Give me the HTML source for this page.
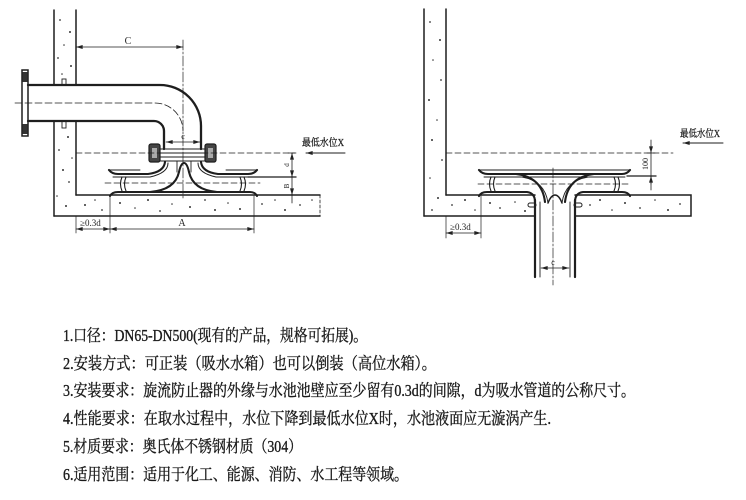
<!DOCTYPE html>
<html><head><meta charset="utf-8"><style>
html,body{margin:0;padding:0;background:#fff;}
svg{display:block;}
</style></head><body>
<svg width="746" height="500" viewBox="0 0 746 500" xmlns="http://www.w3.org/2000/svg">
<defs>
<marker id="ar" viewBox="0 0 10 6" refX="10" refY="3" markerWidth="7" markerHeight="4" orient="auto-start-reverse" markerUnits="userSpaceOnUse"><path d="M0,0 L10,3 L0,6 z" fill="#222"/></marker>
</defs>
<rect width="746" height="500" fill="#fff"/>
<g fill="none" stroke="#1e1e1e" stroke-linecap="round">
<!-- ============ LEFT DIAGRAM ============ -->
<path d="M54,10 V85 M54,121 V216 M76,10 V85 M76,121 V195" stroke-width="1.5"/>
<path d="M76,195 H320 M54,216 H320" stroke-width="1.5"/>
<path d="M320,195 V216" stroke-width="0.8" stroke-dasharray="3,2"/>
<path d="M28,85 H160 A41,41 0 0 1 201,126 V149" stroke-width="2.3"/>
<path d="M28,121 H154 A10,10 0 0 1 164,131 V149" stroke-width="2.3"/>
<rect x="22" y="70" width="6" height="66" stroke-width="1.5"/>
<rect x="22.5" y="72" width="5" height="10" fill="#333" stroke="none"/>
<rect x="22.5" y="124" width="5" height="10" fill="#333" stroke="none"/>
<rect x="62" y="79" width="4" height="6" stroke-width="0.9"/>
<rect x="62" y="121" width="4" height="7" stroke-width="0.9"/>
<path d="M15,103 H155 A28,28 0 0 1 183,131" stroke-width="0.8" stroke-dasharray="7,3"/>
<path d="M183,40 V200" stroke-width="0.7" stroke-dasharray="10,2,2,2"/>
<path d="M76,47 H183" stroke-width="0.8" marker-start="url(#ar)" marker-end="url(#ar)"/>
<path d="M76,40 V50" stroke-width="0.7"/>
<path d="M166,142 H200" stroke-width="0.7" marker-start="url(#ar)" marker-end="url(#ar)"/>
<path d="M160,149 H205 M160,153 H205 M160,157 H205 M160,161 H205" stroke-width="1"/>
<rect x="149" y="144" width="11" height="18" rx="2" fill="#444" stroke-width="1.2"/>
<rect x="152" y="148" width="5" height="10" fill="#aaa" stroke="none"/>
<rect x="205" y="144" width="11" height="18" rx="2" fill="#444" stroke-width="1.2"/>
<rect x="208" y="148" width="5" height="10" fill="#aaa" stroke="none"/>
<path d="M76,153 H295" stroke-width="0.8" stroke-dasharray="6,3"/>
<path d="M109,170 Q112,174 118,174 H148 Q164,172 165,162" stroke-width="2.1"/>
<path d="M113,177 H150 Q168,173 168,163" stroke-width="1"/>
<path d="M257,170 Q254,174 248,174 H218 Q202,172 201,162" stroke-width="2.1"/>
<path d="M253,177 H216 Q198,173 198,163" stroke-width="1"/>
<path d="M109,170 H140 M226,170 H257" stroke-width="0.9"/>
<path d="M122,177 Q119,184 122,191 M126,177 Q123,184 126,191" stroke-width="1.1"/>
<path d="M244,177 Q247,184 244,191 M240,177 Q243,184 240,191" stroke-width="1.1"/>
<path d="M110,196 Q112,192 118,192 H250 Q255,192 257,196" stroke-width="2"/>
<path d="M150,192 Q175,190 179,172 Q181,163 184,163 Q187,163 189,172 Q193,190 217,192" stroke-width="2.1"/>
<path d="M177,161 V172 M191,161 V172" stroke-width="0.9"/>
<path d="M105,183 H260" stroke-width="0.8" stroke-dasharray="6,3"/>
<path d="M248,177 H296" stroke-width="1.3"/>
<path d="M292,153 V203" stroke-width="0.8"/>
<path d="M288,153 H296 M288,195 H296" stroke-width="0.8"/>
<path d="M292,158 V153" stroke-width="0.8" marker-end="url(#ar)"/>
<path d="M292,171 V177" stroke-width="0.8" marker-end="url(#ar)"/>
<path d="M292,190 V195" stroke-width="0.8" marker-end="url(#ar)"/>
<path d="M76,216 V233 M110,196 V233 M254,196 V233" stroke-width="0.7"/>
<path d="M76,229 H110" stroke-width="0.8" marker-start="url(#ar)" marker-end="url(#ar)"/>
<path d="M110,229 H254" stroke-width="0.8" marker-start="url(#ar)" marker-end="url(#ar)"/>
<path d="M345,153 H306" stroke-width="1" marker-end="url(#ar)"/>

<!-- ============ RIGHT DIAGRAM ============ -->
<path d="M424,9 V216 M446,9 V195" stroke-width="1.5"/>
<path d="M446,195 H535 M575,195 H691 V216 H575 M535,216 H424" stroke-width="1.5"/>
<path d="M535,200 V277 M575,200 V277" stroke-width="2.2"/>
<path d="M540,202 V277 M570,202 V277" stroke-width="0.9"/>
<rect x="528" y="203" width="8" height="4" rx="2" stroke-width="1"/>
<rect x="574" y="203" width="8" height="4" rx="2" stroke-width="1"/>
<path d="M553,168 V285" stroke-width="0.7" stroke-dasharray="10,2,2,2"/>
<path d="M541,268 H569" stroke-width="0.7" marker-start="url(#ar)" marker-end="url(#ar)"/>
<path d="M479,170 Q482,174 488,174 H622 Q627,174 630,170" stroke-width="2.1"/>
<path d="M479,170 H630" stroke-width="0.9"/>
<path d="M484,177 H625" stroke-width="0.9"/>
<path d="M491,177 Q488,184 491,191 M495,177 Q492,184 495,191" stroke-width="1.1"/>
<path d="M618,177 Q621,184 618,191 M614,177 Q617,184 614,191" stroke-width="1.1"/>
<path d="M479,196 Q481,192 487,192 H527 Q535,193 535,202" stroke-width="2.1"/>
<path d="M630,196 Q628,192 622,192 H583 Q575,193 575,202" stroke-width="2.1"/>
<path d="M516,174 Q542,177 545,202" stroke-width="2.1"/>
<path d="M594,174 Q568,177 565,202" stroke-width="2.1"/>
<path d="M522,177 Q545,181 548,203" stroke-width="0.9"/>
<path d="M588,177 Q565,181 562,203" stroke-width="0.9"/>
<path d="M548,203 Q551,195 555,195 Q559,195 562,203" stroke-width="1.5"/>
<path d="M478,184 H630" stroke-width="0.8" stroke-dasharray="6,3"/>
<path d="M446,153 H673" stroke-width="0.8" stroke-dasharray="6,3"/>
<path d="M627,176 H656" stroke-width="1.3"/>
<path d="M651,140 V190" stroke-width="0.8"/>
<path d="M647,153 H655" stroke-width="0.8"/>
<path d="M651,146 V153" stroke-width="0.8" marker-end="url(#ar)"/>
<path d="M651,184 V176" stroke-width="0.8" marker-end="url(#ar)"/>
<path d="M723,143 H683" stroke-width="1" marker-end="url(#ar)"/>
<path d="M446,216 V238 M481,196 V238" stroke-width="0.7"/>
<path d="M446,233 H481" stroke-width="0.8" marker-start="url(#ar)" marker-end="url(#ar)"/>
</g>

<g fill="#333">
<circle cx="60" cy="20" r="0.9"/><circle cx="70" cy="32" r="1"/><circle cx="64" cy="45" r="0.8"/><circle cx="58" cy="58" r="0.9"/><circle cx="71" cy="66" r="1"/><circle cx="62" cy="74" r="0.8"/><circle cx="68" cy="137" r="1"/><circle cx="59" cy="150" r="0.9"/><circle cx="72" cy="158" r="0.8"/><circle cx="63" cy="170" r="1"/><circle cx="69" cy="182" r="0.9"/><circle cx="57" cy="196" r="0.8"/><circle cx="66" cy="206" r="1"/>
<circle cx="85" cy="205" r="1"/><circle cx="95" cy="200" r="0.8"/><circle cx="102" cy="210" r="0.9"/><circle cx="120" cy="203" r="1"/><circle cx="135" cy="208" r="0.8"/><circle cx="148" cy="200" r="1"/><circle cx="160" cy="211" r="0.9"/><circle cx="172" cy="204" r="0.8"/><circle cx="190" cy="207" r="1"/><circle cx="205" cy="200" r="0.9"/><circle cx="215" cy="210" r="1"/><circle cx="228" cy="203" r="0.8"/><circle cx="240" cy="209" r="1"/><circle cx="262" cy="204" r="0.9"/><circle cx="275" cy="200" r="0.8"/><circle cx="285" cy="210" r="1"/><circle cx="300" cy="205" r="0.9"/><circle cx="312" cy="200" r="0.8"/>
<circle cx="430" cy="22" r="0.9"/><circle cx="440" cy="40" r="1"/><circle cx="433" cy="60" r="0.8"/><circle cx="441" cy="80" r="0.9"/><circle cx="429" cy="100" r="1"/><circle cx="437" cy="120" r="0.8"/><circle cx="432" cy="140" r="1"/><circle cx="442" cy="160" r="0.9"/><circle cx="430" cy="178" r="0.8"/><circle cx="438" cy="198" r="1"/><circle cx="432" cy="210" r="0.9"/>
<circle cx="452" cy="205" r="0.9"/><circle cx="465" cy="200" r="1"/><circle cx="475" cy="210" r="0.8"/><circle cx="490" cy="203" r="1"/><circle cx="500" cy="208" r="0.9"/><circle cx="515" cy="202" r="0.8"/><circle cx="525" cy="211" r="1"/><circle cx="590" cy="205" r="0.9"/><circle cx="600" cy="200" r="1"/><circle cx="612" cy="210" r="0.8"/><circle cx="625" cy="203" r="1"/><circle cx="640" cy="208" r="0.9"/><circle cx="655" cy="200" r="0.8"/><circle cx="668" cy="210" r="1"/><circle cx="680" cy="204" r="0.9"/>
</g>

<g font-family="'Liberation Serif','Noto Serif CJK SC',serif" fill="#222">
<text x="128" y="44" font-size="10" text-anchor="middle">C</text>
<text x="183" y="139" font-size="8" text-anchor="middle">c</text>
<text x="182" y="226" font-size="10" text-anchor="middle">A</text>
<text x="80" y="226" font-size="9">≥0.3d</text>
<text x="450" y="230" font-size="9">≥0.3d</text>
<text x="553" y="265" font-size="8" text-anchor="middle">c</text>
<text x="302" y="146" font-size="10" textLength="42" lengthAdjust="spacingAndGlyphs" stroke="#222" stroke-width="0.3">最低水位X</text>
<text x="680" y="137" font-size="10" textLength="40" lengthAdjust="spacingAndGlyphs" stroke="#222" stroke-width="0.3">最低水位X</text>
<text transform="translate(289,165) rotate(-90)" font-size="7" text-anchor="middle">d</text>
<text transform="translate(289,186) rotate(-90)" font-size="7" text-anchor="middle">B</text>
<text transform="translate(648,164) rotate(-90)" font-size="8" text-anchor="middle">100</text>
</g>

<g font-family="'Liberation Serif','Noto Serif CJK SC',serif" font-size="16.5" fill="#1a1a1a" stroke="#1a1a1a" stroke-width="0.35">
<text x="63" y="341" textLength="304" lengthAdjust="spacingAndGlyphs">1.口径：DN65-DN500(现有的产品，规格可拓展)。</text>
<text x="63" y="369" textLength="373" lengthAdjust="spacingAndGlyphs">2.安装方式：可正装（吸水水箱）也可以倒装（高位水箱）。</text>
<text x="63" y="396" textLength="572" lengthAdjust="spacingAndGlyphs">3.安装要求：旋流防止器的外缘与水池池壁应至少留有0.3d的间隙，d为吸水管道的公称尺寸。</text>
<text x="63" y="424" textLength="488" lengthAdjust="spacingAndGlyphs">4.性能要求：在取水过程中，水位下降到最低水位X时，水池液面应无漩涡产生.</text>
<text x="63" y="452" textLength="239" lengthAdjust="spacingAndGlyphs">5.材质要求：奥氏体不锈钢材质（304）</text>
<text x="63" y="480" textLength="345" lengthAdjust="spacingAndGlyphs">6.适用范围：适用于化工、能源、消防、水工程等领域。</text>
</g>
</svg>
</body></html>
